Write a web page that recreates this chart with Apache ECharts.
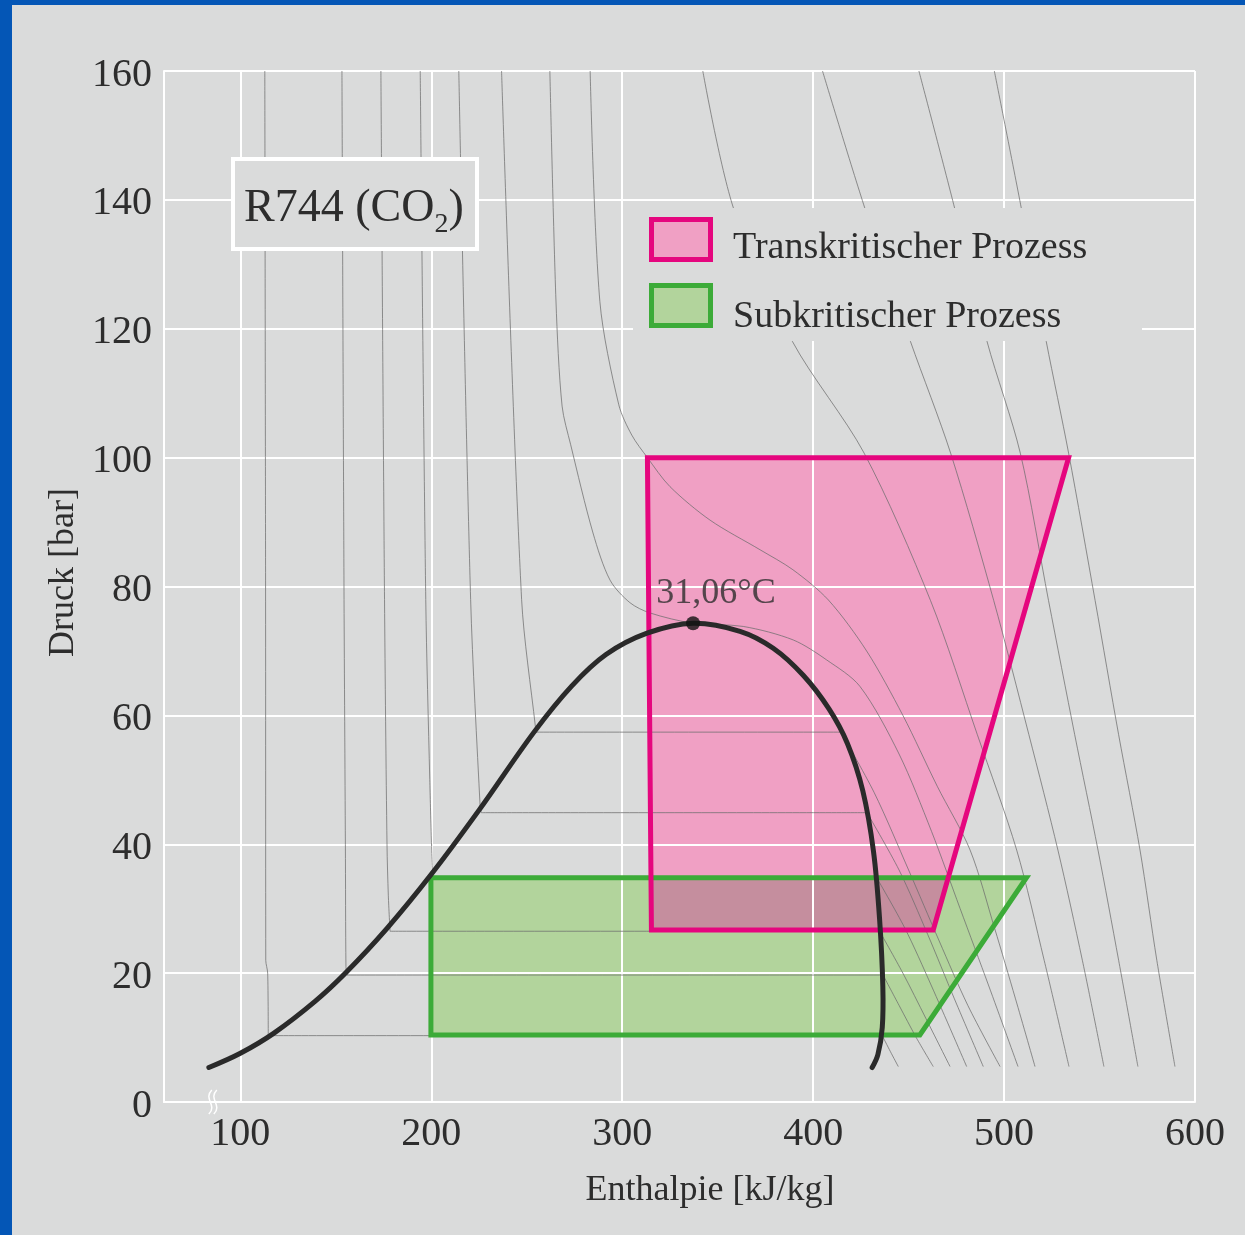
<!DOCTYPE html>
<html><head><meta charset="utf-8">
<script src="https://cdn.jsdelivr.net/npm/echarts@6/dist/echarts.min.js"></script>
<style>
html,body{margin:0;padding:0;background:#0456b6;width:1245px;height:1235px;overflow:hidden}
#c{position:absolute;left:12px;top:5px;width:1233px;height:1230px;background:#dadbdb}
</style></head><body><div id="c"></div>
<script>
// ---------- data ----------
const xRange = [60, 600];
const yRange = [0, 160];
const yStep = 20;
const xLabelValues = [100, 200, 300, 400, 500, 600];

const transName = 'Transkritischer Prozess';
const subName = 'Subkritischer Prozess';
const pinkPoly = [[313.2, 100], [533.8, 100], [462.9, 26.7], [315.3, 26.7]];
const greenPoly = [[199.8, 34.8], [511.7, 34.8], [455.9, 10.4], [199.8, 10.4]];

const domeLeft = [[83.5, 5.35], [100.0, 7.56], [117.6, 10.69], [139.1, 15.61], [155.2, 20.05], [176.8, 26.94],
  [200.1, 35.37], [225.1, 45.33], [253.8, 57.40], [273.5, 64.54], [291.5, 69.44], [313.0, 72.75]];
const criticalPoint = [337.1, 74.3];
const domeRight = [[361.7, 73.05], [379.1, 70.42], [394.8, 66.22], [408.3, 61.0], [418.0, 55.6], [426.0, 48.3],
  [431.6, 38.9], [434.8, 28.38], [436.5, 17.86], [436.2, 11.56], [433.9, 7.36], [430.9, 5.35]];
const criticalLabel = '31,06°C';

// isotherms: null marks the straight two-phase segment
const iso1 = [[112.8, 160], [113.2, 81], [113.3, 22], [114.3, 20], [114.6, 10.3], null, [436.2, 10.3], [440.5, 7.8], [444.6, 5.5]];
const iso2 = [[153.2, 160], [154.3, 78], [155, 40], [155.3, 21], [155.8, 19.7], null, [436.6, 19.7], [445, 15], [454, 10], [462.9, 5.5]];
const iso3 = [[173.6, 160], [175.5, 78], [176.8, 40], [177.5, 32], [178.4, 26.5], null, [434.8, 26.5], [447, 20], [459, 13], [471.7, 5.5]];
const iso4 = [[194.2, 160], [197.1, 78], [199.2, 50], [200.6, 35], null, [432.9, 35], [448, 27], [462, 18], [480.4, 5.5]];
const iso5 = [[214.4, 160], [220.6, 78], [225.6, 45.7], [226.2, 44.9], null, [428.2, 44.9], [445, 36], [460, 26], [474, 16], [489.1, 5.5]];
const iso6 = [[236.8, 160], [247.3, 78], [254.5, 58.3], [255, 57.4], null, [414.5, 57.4], [432, 48], [450, 36], [466, 25], [481, 15], [497.9, 5.5]];
const iso7 = [[262.1, 160], [265.3, 124.3], [268.5, 108], [273, 102], [284.7, 88.3], [293.6, 81], [304, 77.5], [314.5, 75.9],
  [337.1, 74.3], [363.4, 73.8], [389.6, 71.7], [407.1, 68.6], [424.5, 64.5], [445, 54], [462, 42], [477, 30], [492, 18], [507.3, 5.5]];
const iso8 = [[283.2, 160], [288.3, 124.2], [298.2, 108.2], [305, 103.5], [313.2, 100], [325, 95.5], [346, 90.3], [372.2, 85.7],
  [389.4, 82.6], [408, 77.9], [428, 70], [447, 60], [465, 49], [482.2, 39.1], [495, 27], [506, 16], [516.2, 5.5]];
const iso9 = [[342.2, 160], [358.4, 138.6], [389.2, 118], [426.7, 100.7], [461.5, 77.8], [486, 57], [506.6, 39.1], [521, 22], [534, 5.5]];
const iso10 = [[404.9, 160], [427.2, 138.6], [451, 118], [472, 100.7], [494.6, 77.8], [513, 57], [528.2, 39.1], [541, 22], [552.3, 5.5]];
const iso11 = [[455.4, 160], [474.2, 138.6], [491.1, 118], [508.5, 100.7], [523.3, 77.8], [537, 57], [549.2, 39.1], [560, 22], [570.1, 5.5]];
const iso12 = [[494.9, 160], [509.1, 138.6], [522.1, 118], [533.8, 100.7], [547.7, 77.8], [560, 57], [571.2, 39.1], [580, 22], [589.5, 5.5]];
const isotherms = [iso1, iso2, iso3, iso4, iso5, iso6, iso7, iso8, iso9, iso10, iso11, iso12];

// ---------- styles ----------
const FONT = 'Liberation Serif';
const TXT = '#2d2d2d';
const BG = '#dadbdb';
const PINK_FILL = '#f0a0c4', PINK_LINE = '#e5067e';
const GREEN_FILL = '#b2d49c', GREEN_LINE = '#3cab38';
const OVERLAP_FILL = '#c58e9e';

// ---------- helpers ----------
function isoData(arr) {
  const out = [];
  for (let i = 0; i < arr.length; i++) {
    const p = arr[i];
    if (p === null) { out.push(['-', '-'], arr[i - 1], arr[i + 1], ['-', '-']); }
    else out.push(p);
  }
  return out;
}
function clipConvex(subject, clip) {
  let area = 0;
  for (let i = 0; i < clip.length; i++) { const a = clip[i], b = clip[(i + 1) % clip.length]; area += a[0] * b[1] - b[0] * a[1]; }
  const s = area > 0 ? 1 : -1;
  let out = subject.slice();
  for (let i = 0; i < clip.length; i++) {
    const A = clip[i], B = clip[(i + 1) % clip.length];
    const side = p => s * ((B[0] - A[0]) * (p[1] - A[1]) - (B[1] - A[1]) * (p[0] - A[0]));
    const inp = out; out = [];
    for (let j = 0; j < inp.length; j++) {
      const P = inp[j], Q = inp[(j + 1) % inp.length];
      const sp = side(P), sq = side(Q);
      if (sp >= 0) out.push(P);
      if ((sp >= 0) !== (sq >= 0)) {
        const t = sp / (sp - sq);
        out.push([P[0] + t * (Q[0] - P[0]), P[1] + t * (Q[1] - P[1])]);
      }
    }
  }
  return out;
}
const overlapPoly = clipConvex(pinkPoly, greenPoly);

function polySeries(name, poly, style, z) {
  return {
    type: 'custom', name: name, z: z, silent: true,
    data: poly,
    encode: { x: 0, y: 1 },
    renderItem: function (params, api) {
      if (params.dataIndex !== 0) return null;
      return { type: 'polygon', shape: { points: poly.map(p => api.coord(p)) }, style: style };
    }
  };
}

const isoSeries = isotherms.map((iso, k) => ({
  type: 'line', name: 'iso' + (k + 1), z: 3, silent: true,
  data: isoData(iso), showSymbol: false, smooth: 0.3, connectNulls: false,
  lineStyle: { color: '#6e6e6e', width: 1, opacity: 0.75 },
  emphasis: { disabled: true }
}));

const domePoints = domeLeft.concat([criticalPoint], domeRight);
const domeSeries = {
  type: 'custom', name: 'dome', z: 5, silent: true,
  data: domePoints, encode: { x: 0, y: 1 },
  renderItem: function (params, api) {
    if (params.dataIndex !== 0) return null;
    return {
      type: 'polyline',
      shape: { points: domePoints.map(p => api.coord(p)), smooth: 0.35 },
      style: { stroke: '#2a2a2a', lineWidth: 5, fill: null, lineCap: 'round', lineJoin: 'round' }
    };
  }
};

const staticGraphics = [
  { id: 'box', type: 'rect', z: 20, shape: { x: 221, y: 154, width: 244, height: 90 },
    style: { fill: BG, stroke: '#ffffff', lineWidth: 4 } },
  { id: 'boxText', type: 'text', z: 21, x: 232, y: 203.5,
    style: { text: 'R744 (CO{s|2})', fontFamily: FONT, fontSize: 46, lineHeight: 60, fill: TXT,
      align: 'left', verticalAlign: 'middle',
      rich: { s: { fontFamily: FONT, fontSize: 28, lineHeight: 28, verticalAlign: 'bottom', fill: TXT } } } },
  // legend
  { id: 'legBg', type: 'rect', z: 20, shape: { x: 621, y: 203, width: 509, height: 133 }, style: { fill: BG } },
  { id: 'legIcon1', type: 'rect', z: 21, shape: { x: 639.5, y: 214.5, width: 59, height: 40 },
    style: { fill: PINK_FILL, stroke: PINK_LINE, lineWidth: 5 } },
  { id: 'legIcon2', type: 'rect', z: 21, shape: { x: 639.5, y: 280.5, width: 59, height: 40 },
    style: { fill: GREEN_FILL, stroke: GREEN_LINE, lineWidth: 5 } },
  { id: 'legText1', type: 'text', z: 21, x: 721, y: 243.5,
    style: { text: transName, fontFamily: FONT, fontSize: 38, fill: TXT, align: 'left', verticalAlign: 'middle' } },
  { id: 'legText2', type: 'text', z: 21, x: 721, y: 312.5,
    style: { text: subName, fontFamily: FONT, fontSize: 38, fill: TXT, align: 'left', verticalAlign: 'middle' } }
];

const chart = echarts.init(document.getElementById('c'), null, { renderer: 'canvas' });
chart.setOption({
  animation: false,
  grid: { left: 152, top: 66, width: 1031, height: 1031 },
  xAxis: {
    type: 'value', min: xRange[0], max: xRange[1], splitNumber: 5, z: 2,
    axisLine: { show: true, lineStyle: { color: '#ffffff', width: 2 } },
    axisTick: { show: false },
    splitLine: { show: true, lineStyle: { color: '#ffffff', width: 2 } },
    axisLabel: {
      fontFamily: FONT, fontSize: 40, color: TXT, margin: 12,
      formatter: v => (xLabelValues.indexOf(v) >= 0 ? String(v) : '')
    },
    name: 'Enthalpie [kJ/kg]', nameLocation: 'middle', nameGap: 71,
    nameTextStyle: { fontFamily: FONT, fontSize: 36, color: TXT, padding: [0, 0, 0, 61] }
  },
  yAxis: {
    type: 'value', min: yRange[0], max: yRange[1], interval: yStep, z: 2,
    axisLine: { show: true, lineStyle: { color: '#ffffff', width: 2 } },
    axisTick: { show: false },
    splitLine: { show: true, lineStyle: { color: '#ffffff', width: 2 } },
    axisLabel: {
      margin: 12, formatter: v => '{a|' + v + '}',
      rich: { a: { fontFamily: FONT, fontSize: 40, color: TXT, padding: [8, 0, 0, 0] } }
    },
    name: 'Druck [bar]', nameLocation: 'middle', nameGap: 81,
    nameTextStyle: { fontFamily: FONT, fontSize: 36, color: TXT, padding: [0, 0, 0, 28] }
  },
  series: [
    polySeries(subName, greenPoly, { fill: GREEN_FILL }, 1),
    polySeries(transName, pinkPoly, { fill: PINK_FILL }, 1),
    polySeries('overlap', overlapPoly, { fill: OVERLAP_FILL }, 1),
    ...isoSeries,
    polySeries('subBorder', greenPoly, { fill: 'none', stroke: GREEN_LINE, lineWidth: 5, lineJoin: 'miter' }, 4),
    polySeries('transBorder', pinkPoly, { fill: 'none', stroke: PINK_LINE, lineWidth: 5, lineJoin: 'miter' }, 4),
    domeSeries,
    {
      type: 'scatter', name: 'critical', z: 6, silent: true,
      data: [criticalPoint], symbolSize: 14, itemStyle: { color: '#111' },
      label: { show: true, formatter: criticalLabel, position: 'top', distance: 5, offset: [23, 0],
        fontFamily: FONT, fontSize: 36, color: TXT }
    }
  ],
  graphic: staticGraphics
});

// axis break mark at the lower-left, placed through the axis scale
const bp = chart.convertToPixel({ xAxisIndex: 0, yAxisIndex: 0 }, [84, 0]);
const breakMarks = [0, 5].map((dx, i) => ({
  id: 'break' + i, type: 'bezierCurve', z: 22,
  shape: { x1: bp[0] + dx + 2, y1: bp[1] - 12, cpx1: bp[0] + dx - 7, cpy1: bp[1] - 3, cpx2: bp[0] + dx + 8, cpy2: bp[1] + 3, x2: bp[0] + dx - 1, y2: bp[1] + 12 },
  style: { stroke: '#ffffff', lineWidth: 1.5, fill: 'none' }
}));
chart.setOption({ graphic: staticGraphics.concat(breakMarks) });
</script></body></html>
